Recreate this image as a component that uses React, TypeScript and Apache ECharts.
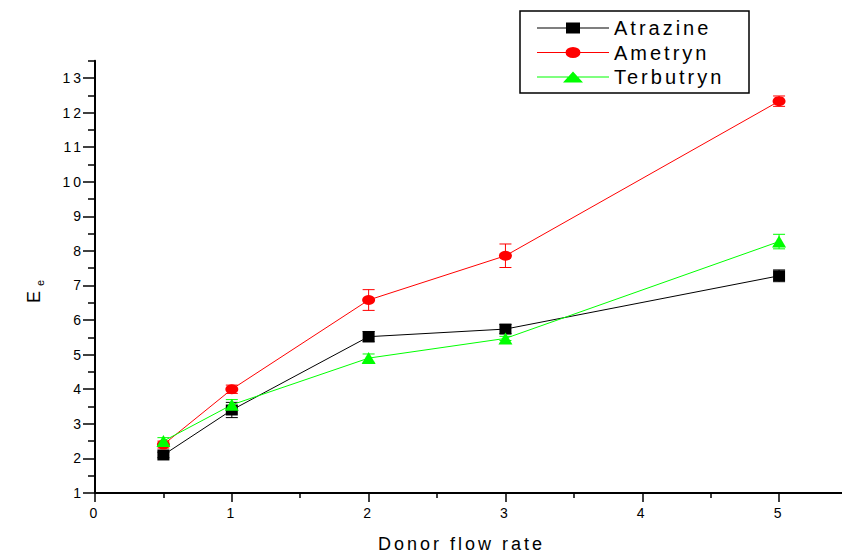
import React, { useEffect, useRef } from "react";
import * as echarts from "echarts";

const xValues = [0.5, 1, 2, 3, 5];
const atrazine = [2.1, 3.4, 5.52, 5.74, 7.28];
const atrazineErr = [0.08, 0.22, 0.15, 0.13, 0.17];
const ametryn = [2.4, 4.0, 6.58, 7.86, 12.33];
const ametrynErr = [0.1, 0.12, 0.3, 0.34, 0.15];
const terbutryn = [2.5, 3.55, 4.9, 5.47, 8.27];
const terbutrynErr = [0.1, 0.15, 0.12, 0.06, 0.21];

const seriesNames = ["Atrazine", "Ametryn", "Terbutryn"];
const xMajorTicks = [0, 1, 2, 3, 4, 5];
const xMinorTicks = [0.5, 1.5, 2.5, 3.5, 4.5];
const yMajorTicks = [1, 2, 3, 4, 5, 6, 7, 8, 9, 10, 11, 12, 13];
const yMinorTicks = [1.5, 2.5, 3.5, 4.5, 5.5, 6.5, 7.5, 8.5, 9.5, 10.5, 11.5, 12.5, 13.5];
const xTitle = "Donor flow rate";

const FONT = "'Liberation Sans', Arial, sans-serif";

function errSeries(color: string, values: number[], errs: number[]) {
  return {
    type: "custom",
    xAxisIndex: 0,
    yAxisIndex: 0,
    silent: true,
    data: xValues.map((x, i) => [x, values[i] - errs[i], values[i] + errs[i]]),
    encode: { x: 0, y: [1, 2] },
    renderItem: (params: any, api: any) => {
      const lo = api.coord([api.value(0), api.value(1)]);
      const hi = api.coord([api.value(0), api.value(2)]);
      const w = 6;
      const st = { stroke: color, lineWidth: 1 };
      return {
        type: "group",
        children: [
          { type: "line", shape: { x1: lo[0], y1: lo[1], x2: hi[0], y2: hi[1] }, style: st },
          { type: "line", shape: { x1: lo[0] - w, y1: lo[1], x2: lo[0] + w, y2: lo[1] }, style: st },
          { type: "line", shape: { x1: hi[0] - w, y1: hi[1], x2: hi[0] + w, y2: hi[1] }, style: st },
        ],
      };
    },
  };
}

function lineSeries(name: string, color: string, values: number[], symbol: string, size: number[]) {
  return {
    type: "line",
    name,
    xAxisIndex: 0,
    yAxisIndex: 0,
    data: xValues.map((x, i) => [x, values[i]]),
    symbol,
    symbolSize: size,
    showSymbol: true,
    lineStyle: { color, width: 1 },
    itemStyle: { color, borderWidth: 0 },
    emphasis: { disabled: true },
  };
}

const lineIcon = "M0,5 L72,5 L72,6 L0,6 Z";
const iconSquare = "path://" + lineIcon + " M29,0 L43,0 L43,11 L29,11 Z";
const iconEllipse = "path://" + lineIcon + " M28.5,5.5 A7.5,5.5 0 1 1 43.5,5.5 A7.5,5.5 0 1 1 28.5,5.5 Z";
const iconTriangle = "path://" + lineIcon + " M26,11 L36,0 L46,11 Z";

export default function App() {
  const ref = useRef<HTMLDivElement>(null);
  useEffect(() => {
    if (!ref.current) return;
    const chart = echarts.init(ref.current, null, { renderer: "svg" });
    const axisLineStyle = { color: "#000", width: 2 };
    const tickStyle = { color: "#000", width: 1.5 };
    const labelStyle = { color: "#000", fontSize: 14, fontFamily: FONT };
    chart.setOption({
      animation: false,
      backgroundColor: "#fff",
      grid: { left: 95, right: 0, top: 60.7, bottom: 63 },
      legend: {
        orient: "vertical",
        left: 537,
        top: 18,
        padding: 0,
        itemWidth: 72,
        itemHeight: 11,
        itemGap: 4.5,
        itemStyle: { borderWidth: 0 },
        textStyle: { fontSize: 20, lineHeight: 20, color: "#000", fontFamily: FONT },
        selectedMode: false,
        data: [
          { name: seriesNames[0], icon: iconSquare },
          { name: seriesNames[1], icon: iconEllipse },
          { name: seriesNames[2], icon: iconTriangle },
        ],
      },
      xAxis: [
        {
          type: "value",
          min: 0,
          max: 5.46,
          position: "bottom",
          splitLine: { show: false },
          axisLine: { show: true, onZero: false, lineStyle: axisLineStyle },
          axisTick: { show: true, inside: false, length: 9, customValues: xMajorTicks, lineStyle: tickStyle },
          axisLabel: { customValues: xMajorTicks, margin: 13, ...labelStyle },
          name: xTitle,
          nameLocation: "middle",
          nameGap: 42,
          nameTextStyle: { fontSize: 18, color: "#000", fontFamily: FONT, padding: [0, 14, 0, 0] },
        },
        {
          type: "value",
          min: 0,
          max: 5.46,
          position: "bottom",
          splitLine: { show: false },
          axisLine: { show: false, onZero: false },
          axisTick: { show: true, inside: false, length: 5, customValues: xMinorTicks, lineStyle: tickStyle },
          axisLabel: { show: false },
        },
      ],
      yAxis: [
        {
          type: "value",
          min: 1,
          max: 13.5,
          position: "left",
          splitLine: { show: false },
          axisLine: { show: true, onZero: false, lineStyle: axisLineStyle },
          axisTick: { show: true, inside: false, length: 12, customValues: yMajorTicks, lineStyle: tickStyle },
          axisLabel: { customValues: yMajorTicks, margin: 11, ...labelStyle },
        },
        {
          type: "value",
          min: 1,
          max: 13.5,
          position: "left",
          splitLine: { show: false },
          axisLine: { show: false, onZero: false },
          axisTick: { show: true, inside: false, length: 7, customValues: yMinorTicks, lineStyle: tickStyle },
          axisLabel: { show: false },
        },
      ],
      graphic: [
        {
          type: "rect",
          shape: { x: 520, y: 11, width: 229, height: 82 },
          style: { fill: "none", stroke: "#000", lineWidth: 1.5 },
          silent: true,
        },
        {
          type: "group",
          x: 34,
          y: 303,
          rotation: Math.PI / 2,
          children: [
            {
              type: "text",
              x: 0,
              y: 0,
              style: { text: "E", fontSize: 18, fontFamily: FONT, fill: "#000", align: "left", verticalAlign: "middle" },
            },
            {
              type: "text",
              x: 17,
              y: 6,
              style: { text: "e", fontSize: 11, fontFamily: FONT, fill: "#000", align: "left", verticalAlign: "middle" },
            },
          ],
        },
      ],
      series: [
        errSeries("#000000", atrazine, atrazineErr),
        lineSeries(seriesNames[0], "#000000", atrazine, "rect", [12, 11]),
        errSeries("#ff0000", ametryn, ametrynErr),
        lineSeries(seriesNames[1], "#ff0000", ametryn, "circle", [13, 10]),
        errSeries("#00ff00", terbutryn, terbutrynErr),
        lineSeries(seriesNames[2], "#00ff00", terbutryn, "triangle", [14, 12]),
      ],
    });
    return () => chart.dispose();
  }, []);
  return (
    <>
      <style>{"#echart-root text { letter-spacing: 3px; }"}</style>
      <div
        id="echart-root"
        ref={ref}
        style={{ position: "fixed", left: 0, top: 0, width: 842, height: 558, background: "#fff" }}
      />
    </>
  );
}
